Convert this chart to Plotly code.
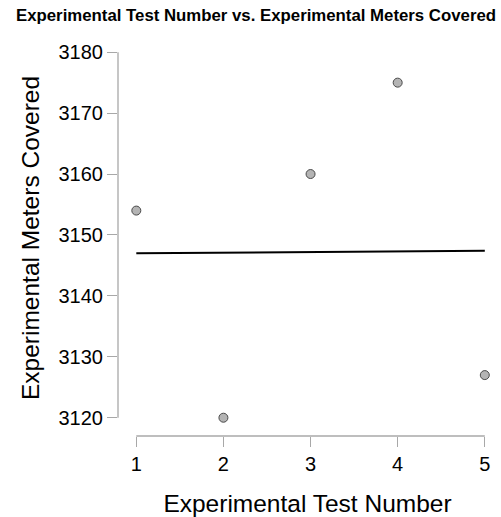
import numpy as np
import plotly.graph_objects as go

test_number = [1, 2, 3, 4, 5]
meters_covered = [3154, 3120, 3160, 3175, 3127]
x_ticks = [1, 2, 3, 4, 5]
y_ticks = [3120, 3130, 3140, 3150, 3160, 3170, 3180]

slope, intercept = np.polyfit(test_number, meters_covered, 1)
fit_x = [min(test_number), max(test_number)]
fit_y = [intercept + slope * v for v in fit_x]

FONT = "Liberation Sans, Arial, sans-serif"
AXIS_COLOR = "#a8a8a8"

fig = go.Figure()
fig.add_trace(go.Scatter(x=fit_x, y=fit_y, mode="lines",
                         line=dict(color="black", width=2), showlegend=False))
fig.add_trace(go.Scatter(x=test_number, y=meters_covered, mode="markers",
                         marker=dict(size=9, color="#b4b4b4",
                                     line=dict(color="#4a4a4a", width=1)),
                         showlegend=False))

# R-style detached axis lines spanning the tick range
fig.add_shape(type="line", xref="x", yref="paper", x0=x_ticks[0], x1=x_ticks[-1],
              y0=0, y1=0, line=dict(color=AXIS_COLOR, width=1.3))
fig.add_shape(type="line", xref="paper", yref="y", x0=0, x1=0,
              y0=y_ticks[0], y1=y_ticks[-1], line=dict(color=AXIS_COLOR, width=1.3))

fig.update_layout(
    width=501, height=517,
    margin=dict(l=118, r=4, t=40, b=81),
    paper_bgcolor="white", plot_bgcolor="white",
    font=dict(family=FONT, color="black"),
    title=dict(text="<b>Experimental Test Number vs. Experimental Meters Covered</b>",
               x=256 / 501, xref="container", xanchor="center", y=1 - 15 / 517,
               yref="container", yanchor="middle",
               font=dict(size=16.8, family=FONT, color="black")),
    xaxis=dict(range=[0.79, 5.14], tickvals=x_ticks, showline=False, showgrid=False,
               zeroline=False, ticks="outside", ticklen=10, tickwidth=1.3,
               tickcolor=AXIS_COLOR, tickfont=dict(size=20), automargin=False,
               title=dict(text="Experimental Test Number", font=dict(size=24.5), standoff=20)),
    yaxis=dict(range=[3117.0, 3182.0], tickvals=y_ticks, showline=False, showgrid=False,
               zeroline=False, ticks="outside", ticklen=10, tickwidth=1.3,
               tickcolor=AXIS_COLOR, tickfont=dict(size=20), automargin=False,
               title=dict(text="Experimental Meters Covered", font=dict(size=24.5), standoff=11)),
)

fig.write_html("out.html", config={"displayModeBar": False},
               post_script="document.body.style.margin='0';document.body.style.overflow='hidden';")
